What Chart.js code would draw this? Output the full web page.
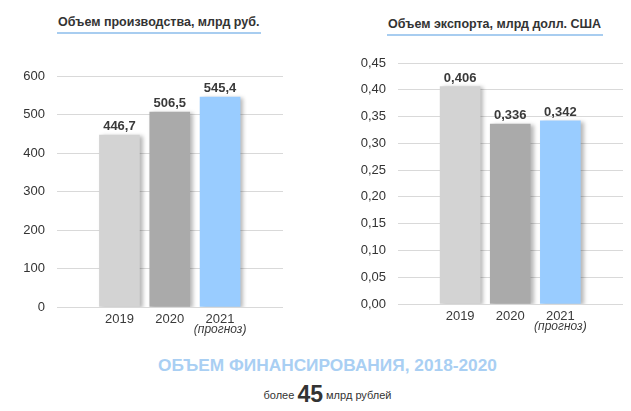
<!DOCTYPE html>
<html>
<head>
<meta charset="utf-8">
<script src="https://cdn.jsdelivr.net/npm/chart.js@4"></script>
<style>
  body { margin: 0; background: #fff; font-family: "Liberation Sans", Arial, sans-serif; }
  #wrap { position: relative; width: 631px; height: 411px; overflow: hidden; }
  .title { position: absolute; font-weight: bold; font-size: 12.5px; color: #333; padding: 0 2px 3px 1px; border-bottom: 2px solid #a8cdf0; white-space: nowrap; }
  .box { position: absolute; top: 0; height: 340px; }
  #footer1 { position: absolute; top: 355px; width: 631px; left: 12px; text-align: center; font-weight: bold; font-size: 17.3px; color: #a9cff3; }
  #footer2 { position: absolute; top: 381px; width: 631px; left: 12px; text-align: center; font-size: 11px; color: #333; }
  #footer2 b { font-size: 23px; vertical-align: -3px; }
</style>
</head>
<body>
<div id="wrap">
  <div class="title" style="left:57px; top:15px;">Объем производства, млрд руб.</div>
  <div class="title" style="left:387px; top:17px;">Объем экспорта, млрд долл. США</div>
  <div class="box" style="left:0; width:300px;"><canvas id="prodChart" width="300" height="340"></canvas></div>
  <div class="box" style="left:320px; width:311px;"><canvas id="exportChart" width="311" height="340"></canvas></div>
  <div id="footer1">ОБЪЕМ ФИНАНСИРОВАНИЯ, 2018-2020</div>
  <div id="footer2">более <b>45</b> млрд рублей</div>
</div>
<script>
const years = [2019, 2020, 2021];
const yearNotes = ['', '', '(прогноз)'];
const production = [446.7, 506.5, 545.4];
const exports = [0.406, 0.336, 0.342];
const prodTicks = [0, 100, 200, 300, 400, 500, 600];
const exportTicks = [0, 0.05, 0.10, 0.15, 0.20, 0.25, 0.30, 0.35, 0.40, 0.45];
const barColors = ['#d3d3d3', '#aaaaaa', '#99ccff'];

const comma = (v, d) => v.toFixed(d).replace('.', ',');

// shadow under bars + value labels + year labels
const decor = {
  id: 'decor',
  beforeDatasetsDraw(chart) {
    const c = chart.ctx;
    c.save();
    c.shadowColor = 'rgba(0,0,0,0.28)';
    c.shadowBlur = 4;
    c.shadowOffsetX = 3;
    c.shadowOffsetY = 1;
  },
  afterDatasetsDraw(chart, args, opts) {
    const c = chart.ctx;
    c.restore();
    c.save();
    const meta = chart.getDatasetMeta(0);
    c.textAlign = 'center';
    c.fillStyle = '#3a3a3a';
    meta.data.forEach((bar, i) => {
      const v = chart.data.datasets[0].data[i].y;
      c.font = 'bold 13px "Liberation Sans", Arial, sans-serif';
      c.textBaseline = 'alphabetic';
      c.fillText(comma(v, opts.decimals), bar.x, bar.y - 5);
      c.font = '13px "Liberation Sans", Arial, sans-serif';
      c.textBaseline = 'top';
      const yb = chart.chartArea.bottom + 6;
      c.fillText(String(years[i]), bar.x, yb);
      if (yearNotes[i]) {
        c.font = 'italic 12px "Liberation Sans", Arial, sans-serif';
        c.fillText(yearNotes[i], bar.x, yb + 11);
      }
    });
    c.restore();
  }
};

function makeChart(id, values, ticks, decimals, tickDecimals, yWidth, pad) {
  return new Chart(document.getElementById(id), {
    type: 'bar',
    data: {
      datasets: [{
        data: years.map((y, i) => ({ x: y, y: values[i] })),
        backgroundColor: barColors,
        borderWidth: 0,
        barThickness: 40
      }]
    },
    plugins: [decor],
    options: {
      responsive: false,
      animation: false,
      layout: { padding: pad },
      plugins: {
        legend: { display: false },
        tooltip: { enabled: false },
        decor: { decimals: decimals }
      },
      scales: {
        x: {
          type: 'linear',
          min: 2017.76,
          max: 2022.25,
          offset: false,
          grid: { display: false, offset: false },
          border: { display: false },
          ticks: { display: false }
        },
        y: {
          min: ticks[0],
          max: ticks[ticks.length - 1],
          afterFit: s => { s.width = yWidth; },
          afterBuildTicks: s => { s.ticks = ticks.map(v => ({ value: v })); },
          grid: { color: '#d9d9d9', drawTicks: false, lineWidth: 1 },
          border: { display: false },
          ticks: {
            padding: 12,
            color: '#333',
            font: { family: '"Liberation Sans", Arial, sans-serif', size: 13 },
            callback: v => comma(v, tickDecimals)
          }
        }
      }
    }
  });
}

makeChart('prodChart', production, prodTicks, 1, 0, 57, { top: 76, bottom: 25, left: 0, right: 17 });
makeChart('exportChart', exports, exportTicks, 3, 2, 78, { top: 63, bottom: 28, left: 0, right: 8 });
</script>
</body>
</html>
